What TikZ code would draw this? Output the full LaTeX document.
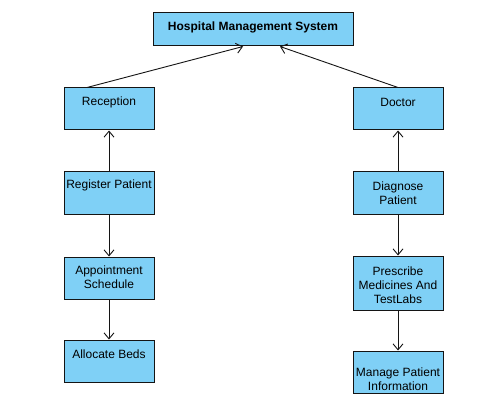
\documentclass[tikz,border=0pt]{standalone}
\usepackage{fontspec}
\setmainfont{Liberation Sans}
\usetikzlibrary{arrows.meta}
\definecolor{boxfill}{RGB}{127,208,246}
\definecolor{edge}{RGB}{20,20,20}
\tikzset{
  box/.style={draw=edge, fill=boxfill, line width=1pt, rectangle, inner sep=0pt, minimum width=90pt, minimum height=42pt},
  txt/.style={font=\fontsize{12pt}{14pt}\selectfont, align=center, inner sep=0pt, text=black},
  conn/.style={draw=edge, line width=0.9pt, -{Straight Barb[length=6pt,width=10pt,line width=0.9pt]}}
}
\begin{document}
\begin{tikzpicture}[x=1pt,y=-1pt]
\useasboundingbox (0,0) rectangle (502,403);
\fill[white] (0,0) rectangle (502,403);
% boxes
\node[box, minimum width=200pt, minimum height=33pt] (hms) at (253,29.5) {};
\node[box] (rec) at (109,109) {};
\node[box] (reg) at (109,193) {};
\node[box] (app) at (109,278) {};
\node[box] (bed) at (109,361) {};
\node[box] (doc) at (398,109) {};
\node[box] (dia) at (398,193) {};
\node[box, minimum height=54pt] (pre) at (398,283) {};
\node[box] (man) at (398,372) {};
% texts
\node[txt, font=\fontsize{12pt}{14pt}\selectfont\bfseries] (thms) at (253,27) {Hospital Management System};
\node[txt] (trec) at (109,102) {Reception};
\node[txt] (treg) at (109,185) {Register Patient};
\node[txt] (tapp) at (109,277) {Appointment\\Schedule};
\node[txt] (tbed) at (109,354) {Allocate Beds};
\node[txt] (tdoc) at (398,102) {Doctor};
\node[txt] (tdia) at (398,193) {Diagnose\\Patient};
\node[txt] (tpre) at (398,285) {Prescribe\\Medicines And\\TestLabs};
\node[txt] (tman) at (398,379) {Manage Patient\\Information};
% connectors
\draw[conn] ([xshift=-22pt]rec.north) -- ([xshift=-10pt]hms.south);
\draw[conn] (doc.north) -- ([xshift=27pt]hms.south);
\draw[conn] (reg.north) -- (rec.south);
\draw[conn] (reg.south) -- (app.north);
\draw[conn] (app.south) -- (bed.north);
\draw[conn] (dia.north) -- (doc.south);
\draw[conn] (dia.south) -- (pre.north);
\draw[conn] (pre.south) -- (man.north);
\end{tikzpicture}
\end{document}
